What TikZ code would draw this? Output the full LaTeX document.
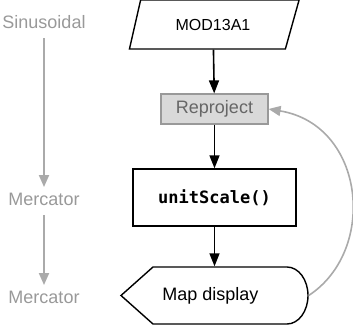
\documentclass[tikz,border=0pt]{standalone}
\usepackage{fontspec}
\setmainfont{Liberation Sans}
\newfontfamily\codefont{DejaVu Sans Mono}
\usetikzlibrary{arrows.meta, shapes.geometric}
\definecolor{cline}{HTML}{AAAAAA}
\definecolor{ctext}{HTML}{999999}
\definecolor{cbox}{HTML}{D9D9D9}
\definecolor{cboxtext}{HTML}{666666}
\tikzset{
  every picture/.style={line width=1.4pt},
  flow/.style={-{Triangle[length=13pt, width=10pt]}, draw=black, line width=1.6pt},
  projarrow/.style={-{Triangle[length=12pt, width=10pt]}, draw=cline, line width=2pt},
  projlabel/.style={text=ctext, font=\fontsize{18}{22}\selectfont, inner sep=0pt},
  databox/.style={draw, trapezium, trapezium left angle=63, trapezium right angle=122,
    trapezium stretches=true, minimum width=170pt, minimum height=49pt, inner sep=0pt},
  stepbox/.style={draw, minimum width=163pt, minimum height=57pt, inner sep=0pt},
}
\begin{document}
\begin{tikzpicture}[x=1pt, y=-1pt]
  \useasboundingbox (0,0) rectangle (353,325);
  % projection of the data at each stage
  \node[projlabel] (sin) at (44,22) {Sinusoidal};
  \node[projlabel] (merc1) at (44,199) {Mercator};
  \node[projlabel] (merc2) at (44,297) {Mercator};
  \draw[projarrow, shorten <=9pt, shorten >=5pt] (sin) -- (merc1);
  \draw[projarrow, shorten <=9pt, shorten >=5pt] (merc1) -- (merc2);
  % processing chain
  \node[databox, font=\fontsize{16}{19}\selectfont] (mod) at (213,24.5) {MOD13A1};
  \node[draw=ctext, line width=1.2pt, fill=cbox, text=cboxtext, minimum width=107pt, minimum height=30pt,
    inner sep=0pt, font=\fontsize{18}{22}\selectfont] (rep) at (214.5,109) {Reproject};
  \node[stepbox, font=\codefont\bfseries\fontsize{17}{20}\selectfont] (unit) at (214.5,197.5) {unitScale()};
  \node[minimum width=187pt, minimum height=57pt, inner sep=0pt,
    font=\fontsize{18}{22}\selectfont] (map) at (214.5,295.5) {\hspace*{-8pt}Map display};
  \draw (121,295.5) -- (153,267) -- (287,267) arc (-90:90:21 and 28.5) -- (153,324) -- cycle;
  \draw[flow] (mod) -- (rep);
  \draw[flow] (rep) -- (unit);
  \draw[flow] (unit) -- (map);
  % re-projection on display
  \draw[projarrow, line width=1.6pt] (map.east) .. controls (378,250) and (365,125) .. (rep.east);
\end{tikzpicture}
\end{document}
